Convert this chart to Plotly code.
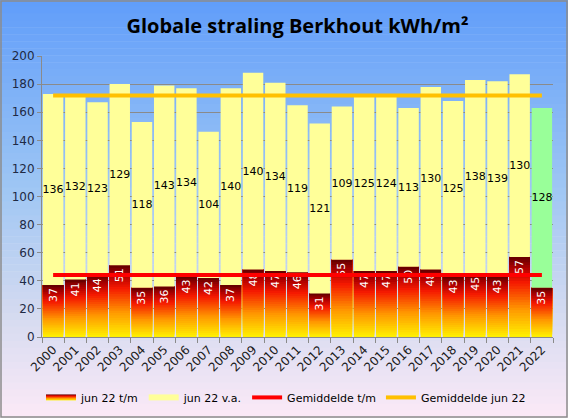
import plotly.graph_objects as go

# data
years = [str(y) for y in range(2000, 2023)]
tm_values = [37, 41, 44, 51, 35, 36, 43, 42, 37, 48, 47, 46, 31, 55, 47, 47, 50, 48, 43, 45, 43, 57, 35]
va_values = [136, 132, 123, 129, 118, 143, 134, 104, 140, 140, 134, 119, 121, 109, 125, 124, 113, 130, 125, 138, 139, 130, 128]
avg_tm = 44.2
avg_jun = 171.8

ML, MR, MT, MB = 42, 15, 56, 81
W, H = 568, 418
PW, PH = W - ML - MR, H - MT - MB


def lerp(stops, t):
    for (a, ca), (b, cb) in zip(stops, stops[1:]):
        if a <= t <= b:
            f = (t - a) / (b - a) if b > a else 0
            return tuple(round(ca[i] + (cb[i] - ca[i]) * f) for i in range(3))
    return stops[-1][1]


# bar gradient, bottom (0) -> top (1)
bar_stops = [(0, (255, 242, 0)), (0.35, (255, 150, 0)), (0.68, (245, 25, 0)),
             (0.86, (175, 0, 0)), (1, (95, 0, 0))]
bg_stops = [(0, (96, 157, 250)), (0.45, (158, 198, 244)), (0.75, (212, 218, 240)), (1, (252, 234, 247))]

fig = go.Figure()

# each slice runs from its own base up to the top of the bar, so no seams show
n_seg = 30
for k in range(n_seg):
    c = lerp(bar_stops, (k + 0.5) / n_seg)
    fig.add_trace(go.Bar(
        x=years, y=[v * (n_seg - k) / n_seg for v in tm_values], base=[v * k / n_seg for v in tm_values],
        marker=dict(color='rgb(%d,%d,%d)' % c, line=dict(width=0)),
        showlegend=False, hoverinfo='skip'))

# labels of the t/m bars
fig.add_trace(go.Bar(
    x=years, y=tm_values, base=0, name='jun 22 t/m', showlegend=False,
    marker=dict(color='rgba(0,0,0,0)', line=dict(width=0)),
    text=tm_values, textposition='inside', insidetextanchor='end', textangle=-90,
    constraintext='none', textfont=dict(color='white', size=11, family='DejaVu Sans')))

va_colors = ['#ffff99'] * (len(years) - 1) + ['#99ff99']
fig.add_trace(go.Bar(
    x=years, y=va_values, base=tm_values, name='jun 22 v.a.', showlegend=False,
    marker=dict(color=va_colors, line=dict(width=0)),
    text=va_values, textposition='inside', insidetextanchor='middle', textangle=0,
    constraintext='none', textfont=dict(color='black', size=11, family='DejaVu Sans')))

# legend entries with wide swatches
fig.add_trace(go.Scatter(
    x=[None], y=[None], mode='none', fill='toself', name='jun 22 t/m',
    fillgradient=dict(type='vertical', colorscale=[[s, 'rgb(%d,%d,%d)' % c] for s, c in bar_stops])))
fig.add_trace(go.Scatter(
    x=[None], y=[None], mode='none', fill='toself', name='jun 22 v.a.', fillcolor='#ffff99'))

fig.add_trace(go.Scatter(x=years, y=[avg_tm] * len(years), mode='lines', name='Gemiddelde t/m',
                         line=dict(color='#ff0000', width=4)))
fig.add_trace(go.Scatter(x=years, y=[avg_jun] * len(years), mode='lines', name='Gemiddelde jun 22',
                         line=dict(color='#ffc000', width=4)))

# background gradient bands over the whole page
x0, x1 = -ML / PW, 1 + MR / PW
y_bot, y_top = -MB / PH, 1 + MT / PH
n_bg = 60
shapes = []
for k in range(n_bg):
    c = lerp(bg_stops, (k + 0.5) / n_bg)
    ya = y_top - (y_top - y_bot) * k / n_bg
    yb = y_top - (y_top - y_bot) * (k + 1) / n_bg
    shapes.append(dict(type='rect', xref='paper', yref='paper', x0=x0, x1=x1, y0=yb, y1=ya + 0.002,
                       fillcolor='rgb(%d,%d,%d)' % c, line=dict(width=0), layer='below'))
shapes.append(dict(type='rect', xref='paper', yref='paper', x0=x0 + 1 / PW, x1=x1 - 1 / PW,
                   y0=y_bot + 1 / PH, y1=y_top - 1 / PH, line=dict(color='#8c8c8c', width=1.5),
                   fillcolor='rgba(0,0,0,0)', layer='above'))

fig.update_layout(
    width=W, height=H,
    margin=dict(l=ML, r=MR, t=MT, b=MB, autoexpand=False),
    barmode='overlay', bargap=0.08,
    paper_bgcolor='#ffffff', plot_bgcolor='rgba(0,0,0,0)',
    shapes=shapes,
    title=dict(text='Globale straling Berkhout kWh/m²', x=0.5, xref='paper', xanchor='center',
               y=0.938, yref='container', yanchor='middle',
               font=dict(family='Open Sans', size=20, color='black', weight='bold')),
    font=dict(family='DejaVu Sans', size=11, color='#1a1a1a'),
    legend=dict(orientation='h', x=-0.002, xanchor='left', y=-0.215, yanchor='middle',
                bgcolor='rgba(0,0,0,0)', font=dict(size=11, color='black'), traceorder='normal'),
)
fig.update_yaxes(range=[0, 200], dtick=20, showgrid=True, gridcolor='#8a8a8a', gridwidth=1,
                 showline=True, linecolor='#8a8a8a', linewidth=1, ticks='outside', ticklen=4,
                 tickcolor='#8a8a8a', tickfont=dict(size=12, color='#1f2a44'), zeroline=False,
                 automargin=False)
fig.update_xaxes(type='category', showline=True, linecolor='#8a8a8a', linewidth=1, ticks='outside',
                 ticklen=5, tickcolor='#8a8a8a', tickson='boundaries', tickangle=-45,
                 tickfont=dict(size=12, color='#1a1a1a'), showgrid=False, automargin=False)

fig.write_html('out.html', config={'displayModeBar': False},
               post_script="document.body.style.margin='0';")
